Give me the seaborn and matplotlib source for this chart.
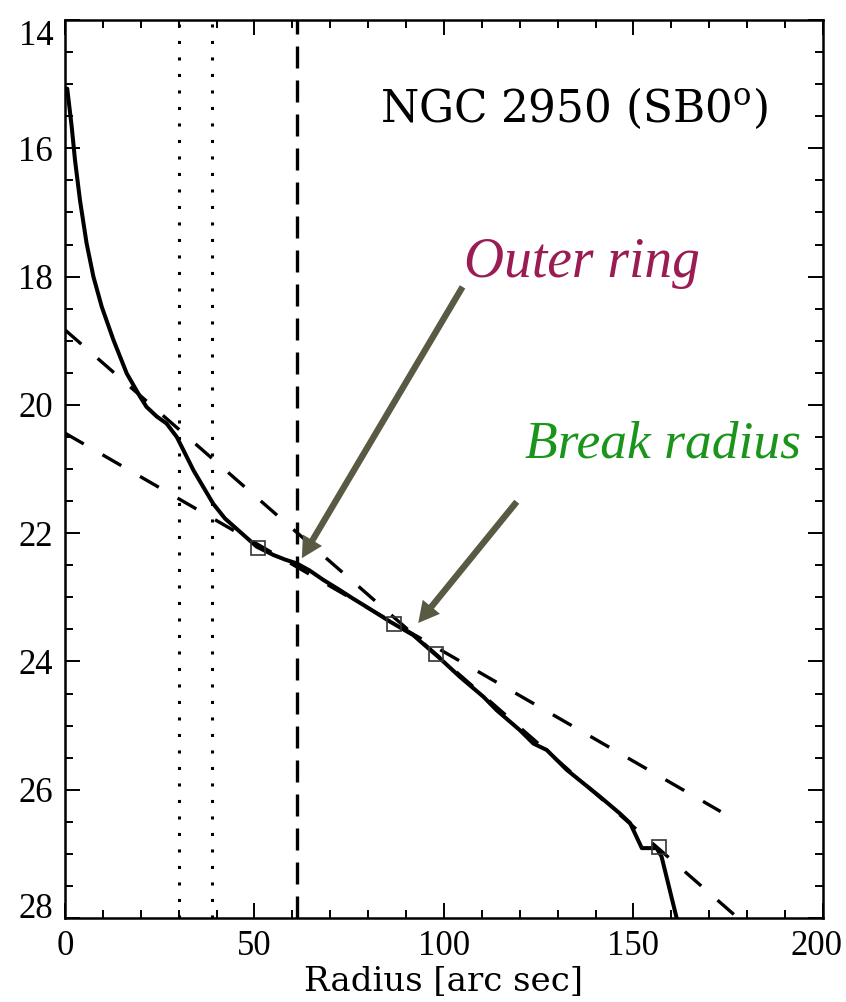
import numpy as np
import pandas as pd
import matplotlib
matplotlib.use('Agg')
import matplotlib.pyplot as plt
import matplotlib.transforms as mtransforms
from matplotlib.ticker import MultipleLocator
import seaborn as sns

sns.set_theme(style='ticks')
plt.rcParams['font.family'] = ['Liberation Serif', 'DejaVu Serif']
plt.rcParams['mathtext.fontset'] = 'dejavuserif'
plt.rcParams['text.color'] = 'black'
plt.rcParams['axes.labelcolor'] = 'black'

# surface brightness profile
radius = [0.6, 1.77, 2.64, 3.96, 5.7, 7.5, 9.7, 12.8, 16.3, 19.8, 21.5, 24.2,
          26.8, 29.5, 31.2, 33.9, 36.5, 39.1, 42.2, 46.2, 50.6, 55.0, 58.0,
          61.1, 64.5, 68.2, 72.6, 76.0, 79.6, 85.8, 91.9, 95.0, 98.9, 104.2,
          110.4, 113.9, 120.0, 123.6, 127.1, 132.4, 141.2, 146.4, 149.1,
          152.2, 156.1, 157.4, 161.8]
mu = [15.07, 15.66, 16.18, 16.81, 17.48, 18.0, 18.47, 18.99, 19.51, 19.87,
      20.03, 20.18, 20.29, 20.5, 20.7, 21.02, 21.28, 21.54, 21.77, 21.98,
      22.21, 22.34, 22.41, 22.47, 22.58, 22.73, 22.89, 23.02, 23.15, 23.38,
      23.59, 23.75, 23.95, 24.24, 24.55, 24.76, 25.07, 25.28, 25.38, 25.69,
      26.11, 26.37, 26.52, 26.91, 26.91, 27.04, 28.1]

# open squares
sq_radius = [51.0, 86.8, 97.8, 156.7]
sq_mu = [22.23, 23.42, 23.89, 26.9]

# exponential fits (end points)
fit_outer_r = [0.0, 176.6]
fit_outer_mu = [18.83, 27.95]
fit_inner_r = [0.0, 173.0]
fit_inner_mu = [20.44, 26.34]

# vertical markers
dotted_r = [30.0, 38.7]
dashed_r = [61.1]

# arrows: (tail, tip) in data units
ring_tail, ring_tip = (104.9, 18.16), (62.5, 22.39)
break_tail, break_tip = (119.2, 21.51), (93.2, 23.40)

xtick_vals = [0, 50, 100, 150, 200]
ytick_vals = [14, 16, 18, 20, 22, 24, 26, 28]

df = pd.DataFrame({'Radius': radius, 'mu': mu})

fig = plt.figure(figsize=(8.46, 10.02), dpi=100)
ax = fig.add_axes([0.0768, 0.0838, 0.8960, 0.8962])

for r in dotted_r:
    ax.axvline(r, color='black', lw=2.2, dashes=(1, 4.4), zorder=1)
for r in dashed_r:
    ax.axvline(r, color='black', lw=2.4, dashes=(6.6, 3.6), zorder=1)

ax.plot(fit_outer_r, fit_outer_mu, color='black', lw=2.4, dashes=(6.5, 6.5), zorder=2)
ax.plot(fit_inner_r, fit_inner_mu, color='black', lw=2.4, dashes=(6.5, 6.5), zorder=2)

sns.lineplot(data=df, x='Radius', y='mu', sort=False, color='black', lw=2.9,
             ax=ax, zorder=3, solid_joinstyle='round')
ax.plot(sq_radius, sq_mu, ls='none', marker='s', ms=9.5, mfc='none',
        mec='#333333', mew=1.2, zorder=4)

arrow_col = '#5a5a44'
for tail, tip in [(ring_tail, ring_tip), (break_tail, break_tip)]:
    ax.annotate('', xy=tip, xytext=tail,
                arrowprops=dict(arrowstyle='simple,head_width=0.8,head_length=0.75,tail_width=0.23',
                                color=arrow_col, lw=0, mutation_scale=20,
                                shrinkA=0, shrinkB=0), zorder=5)

ax.text(0.671, 0.8868, 'NGC 2950 (SB0$^{\\rm o}$)', transform=ax.transAxes,
        ha='center', va='baseline', fontsize=31.5, family='DejaVu Serif')
ax.text(0.6825, 0.7141, 'Outer ring', transform=ax.transAxes, ha='center',
        va='baseline', fontsize=40, style='italic', color='#9b1b53')
ax.text(0.7883, 0.5125, 'Break radius', transform=ax.transAxes, ha='center',
        va='baseline', fontsize=38.5, style='italic', color='#1a941a')

ax.set_xlim(0, 200)
ax.set_ylim(28, 14)
ax.set_xticks(xtick_vals)
ax.set_yticks(ytick_vals)
ax.xaxis.set_minor_locator(MultipleLocator(10))
ax.yaxis.set_minor_locator(MultipleLocator(0.5))
ax.tick_params(which='both', direction='in', top=True, right=True,
               color='black', width=1.4, labelsize=25, labelcolor='black')
ax.tick_params(which='major', length=10.8, pad=8.5)
ax.tick_params(which='minor', length=5.8)
for s in ax.spines.values():
    s.set_linewidth(1.8)
    s.set_color('black')

ax.set_xlabel('Radius [arc sec]', fontsize=24.5, family='DejaVu Serif', labelpad=2)
ax.set_ylabel('')

ylabels = ax.get_yticklabels()
ylabels[0].set_va('top')
ylabels[-1].set_va('baseline')

# keep the last x label inside the figure
xlabels = ax.get_xticklabels()
last = xlabels[-1]
last.set_transform(last.get_transform() +
                   mtransforms.ScaledTranslation(-6 / 100, 0, fig.dpi_scale_trans))

fig.savefig('out.png', dpi=100, facecolor='white')
